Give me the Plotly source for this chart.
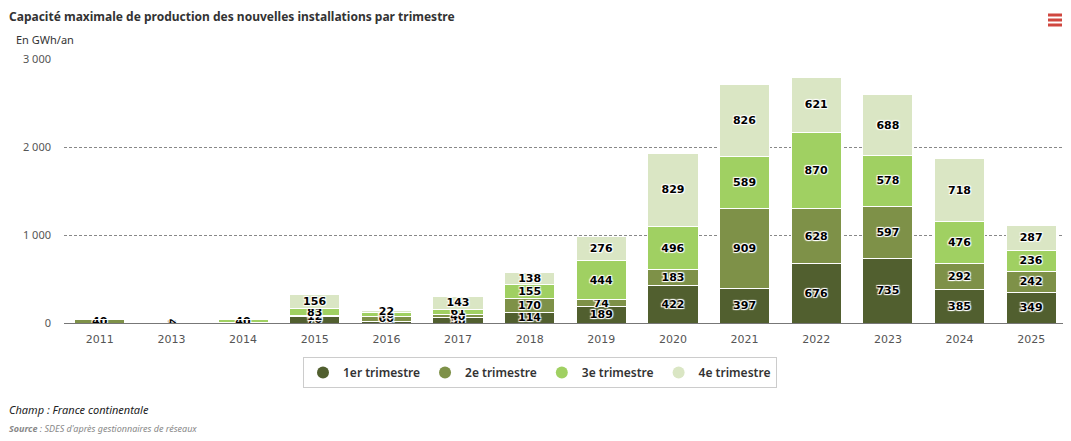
import plotly.graph_objects as go

years = ["2011", "2013", "2014", "2015", "2016", "2017", "2018", "2019",
         "2020", "2021", "2022", "2023", "2024", "2025"]
q1 = [0, 0, 0, 70, 18, 58, 114, 189, 422, 397, 676, 735, 385, 349]
q2 = [40, 1, 2, 12, 60, 40, 170, 74, 183, 909, 628, 597, 292, 242]
q3 = [0, 0, 40, 83, 46, 61, 155, 444, 496, 589, 870, 578, 476, 236]
q4 = [0, 4, 0, 156, 22, 143, 138, 276, 829, 826, 621, 688, 718, 287]
series_names = ["1er trimestre", "2e trimestre", "3e trimestre", "4e trimestre"]
colors = ["#515f2f", "#7e9148", "#a0d062", "#dae6c4"]
y_ticks = [0, 1000, 2000, 3000]
y_tick_labels = ["0", "1 000", "2 000", "3 000"]

# page body has an 8px margin: figure drawn 8px right/down
OFF = 8
W, H = 1071 - OFF, 441 - OFF
PL, PT, PW, PH = 64, 59, 1003, 264  # plot area in reference pixels


def px(x):
    return (x - PL) / PW


def py(y):
    return 1 + (PT - y) / PH


fig = go.Figure()
shadow = "1px 1px 1px #fff, -1px -1px 1px #fff, 1px -1px 1px #fff, -1px 1px 1px #fff"
for name, vals, col in zip(series_names, [q1, q2, q3, q4], colors):
    fig.add_trace(go.Bar(
        x=years, y=vals, name=name, marker=dict(color=col, line=dict(color="#ffffff", width=1)),
        text=[str(v) for v in vals], textposition="inside", insidetextanchor="middle",
        textfont=dict(family="DejaVu Sans", size=11, color="#000000", weight="bold", shadow=shadow),
        constraintext="none", showlegend=False, hoverinfo="x+y+name", legendgroup=name,
    ))
    fig.add_trace(go.Scatter(
        x=[None], y=[None], mode="markers", name=name, legendgroup=name,
        marker=dict(color=col, size=12, symbol="circle"), showlegend=True,
    ))

fig.update_layout(
    barmode="stack", bargap=0.3,
    width=W, height=H,
    margin=dict(l=PL - OFF, r=W - (PL - OFF) - PW, t=PT - OFF, b=H - (PT - OFF) - PH),
    paper_bgcolor="#ffffff", plot_bgcolor="#ffffff",
    font=dict(family="Noto Sans", size=11, color="#333333"),
    uniformtext=dict(mode="show", minsize=11),
    xaxis=dict(type="category", showgrid=False, showline=True, linecolor="#777777", linewidth=1,
               ticks="", tickfont=dict(size=11, color="#555555", family="DejaVu Sans"), ticklabelstandoff=6,
               range=[-0.5, 13.5]),
    yaxis=dict(range=[0, 3006], tickvals=y_ticks, ticktext=y_tick_labels, showgrid=True,
               gridcolor="#888888", griddash="3px,2px", gridwidth=0.7, zeroline=False,
               tickfont=dict(size=11, color="#555555", family="Noto Sans"), ticklabelstandoff=12),
    legend=dict(orientation="h", xref="container", yref="container", x=(540 - OFF) / W, y=1 - (357 - OFF) / H,
                xanchor="center", yanchor="top", bgcolor="#ffffff", bordercolor="#cccccc", borderwidth=1,
                font=dict(size=12, color="#333333", family="Noto Sans", weight=600), itemsizing="constant"),
)

fig.add_annotation(text="<b>Capacité maximale de production des nouvelles installations par trimestre</b>",
                   xref="paper", yref="paper", x=px(8), y=py(16.5), xanchor="left", yanchor="middle",
                   showarrow=False, borderpad=0, font=dict(size=12, color="#333333", family="Noto Sans"))
fig.add_annotation(text="En GWh/an", xref="paper", yref="paper", x=px(14), y=py(39),
                   xanchor="left", yanchor="middle", showarrow=False,
                   font=dict(size=11, color="#333333", family="Noto Sans"))
fig.add_annotation(text="<i>Champ : France continentale</i>", xref="paper", yref="paper",
                   x=px(7), y=py(409), xanchor="left", yanchor="middle", showarrow=False,
                   font=dict(size=11, color="#222222", family="Noto Sans"))
fig.add_annotation(text="<i><b>Source</b> : SDES d'après gestionnaires de réseaux</i>", xref="paper", yref="paper",
                   x=px(7), y=py(428), xanchor="left", yanchor="middle", showarrow=False,
                   font=dict(size=9, color="#888888", family="Noto Sans"))
# menu icon
for yy in [15, 20, 25]:
    fig.add_shape(type="line", xref="paper", yref="paper",
                  x0=px(1048), x1=px(1062), y0=py(yy), y1=py(yy),
                  line=dict(color="#d0473f", width=3))

fig.write_html("out.html")
